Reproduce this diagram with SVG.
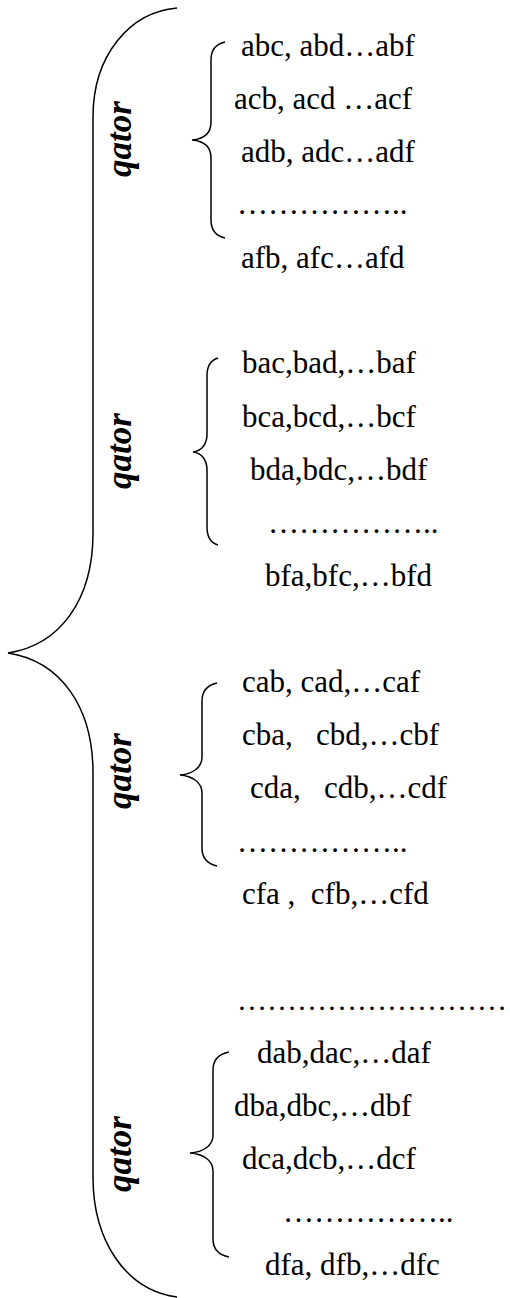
<svg xmlns="http://www.w3.org/2000/svg" width="510" height="1298" viewBox="0 0 510 1298">
<style>
.t{font-family:"Liberation Serif","Times New Roman",serif;font-size:31px;fill:#000}
.q{font-family:"Liberation Serif","Times New Roman",serif;font-size:35px;font-weight:bold;font-style:italic;fill:#000}
.b{fill:none;stroke:#000;stroke-width:1.5}
</style>
<rect width="510" height="1298" fill="#fff"/>
<g id="connectors">
<path id="bigbrace" class="b" d="M177,8 C130,12 93,55 93,117 L93,533 C93,600 60,645 8,653 C60,661 93,706 93,773 L93,1177 C93,1240 125,1290 177,1297"/>
<path id="brace1" class="b" d="M225,42 C216,44 211,50 211,60 L211,122 C211,133 204,139 192,140 C204,141 211,147 211,158 L211,220 C211,230 216,236 225,238"/>
<path id="brace2" class="b" d="M218,358 C211,360 207,366 207,376 L207,434 C207,445 201,451 193,452 C201,453 207,459 207,470 L207,527 C207,537 211,543 218,545"/>
<path id="brace3" class="b" d="M217,683 C208,685 202,691 202,701 L202,757 C202,768 192,774 180,775 C192,776 202,782 202,793 L202,848 C202,858 208,864 217,866"/>
<path id="brace4" class="b" d="M229,1052 C219,1054 213,1060 213,1070 L213,1135 C213,1146 203,1152 190,1153 C203,1154 213,1160 213,1171 L213,1239 C213,1249 219,1255 229,1257"/>
</g>
<g id="row-a">
<text class="q" transform="translate(131,139) rotate(-90)" text-anchor="middle">qator</text>
<text class="t" x="241" y="56">abc, abd…abf</text>
<text class="t" x="234" y="109">acb, acd …acf</text>
<text class="t" x="241" y="162">adb, adc…adf</text>
<text class="t" x="237" y="214">……………..</text>
<text class="t" x="241" y="268">afb, afc…afd</text>
</g>
<g id="row-b">
<text class="q" transform="translate(131,451) rotate(-90)" text-anchor="middle">qator</text>
<text class="t" x="242" y="373">bac,bad,…baf</text>
<text class="t" x="242" y="427">bca,bcd,…bcf</text>
<text class="t" x="250" y="480">bda,bdc,…bdf</text>
<text class="t" x="268" y="533">……………..</text>
<text class="t" x="265" y="586">bfa,bfc,…bfd</text>
</g>
<g id="row-c">
<text class="q" transform="translate(131,771) rotate(-90)" text-anchor="middle">qator</text>
<text class="t" x="242" y="692">cab, cad,…caf</text>
<text class="t" x="242" y="745" xml:space="preserve" style="white-space:pre">cba,   cbd,…cbf</text>
<text class="t" x="250" y="798" xml:space="preserve" style="white-space:pre">cda,   cdb,…cdf</text>
<text class="t" x="237" y="852">……………..</text>
<text class="t" x="242" y="904" xml:space="preserve" style="white-space:pre">cfa ,  cfb,…cfd</text>
</g>
<g id="gap">
<text class="t" x="237" y="1010" style="font-size:30px">………………………</text>
</g>
<g id="row-d">
<text class="q" transform="translate(131,1154) rotate(-90)" text-anchor="middle">qator</text>
<text class="t" x="257" y="1063">dab,dac,…daf</text>
<text class="t" x="234" y="1116">dba,dbc,…dbf</text>
<text class="t" x="242" y="1169">dca,dcb,…dcf</text>
<text class="t" x="283" y="1222">……………..</text>
<text class="t" x="265" y="1275">dfa, dfb,…dfc</text>
</g>
</svg>
